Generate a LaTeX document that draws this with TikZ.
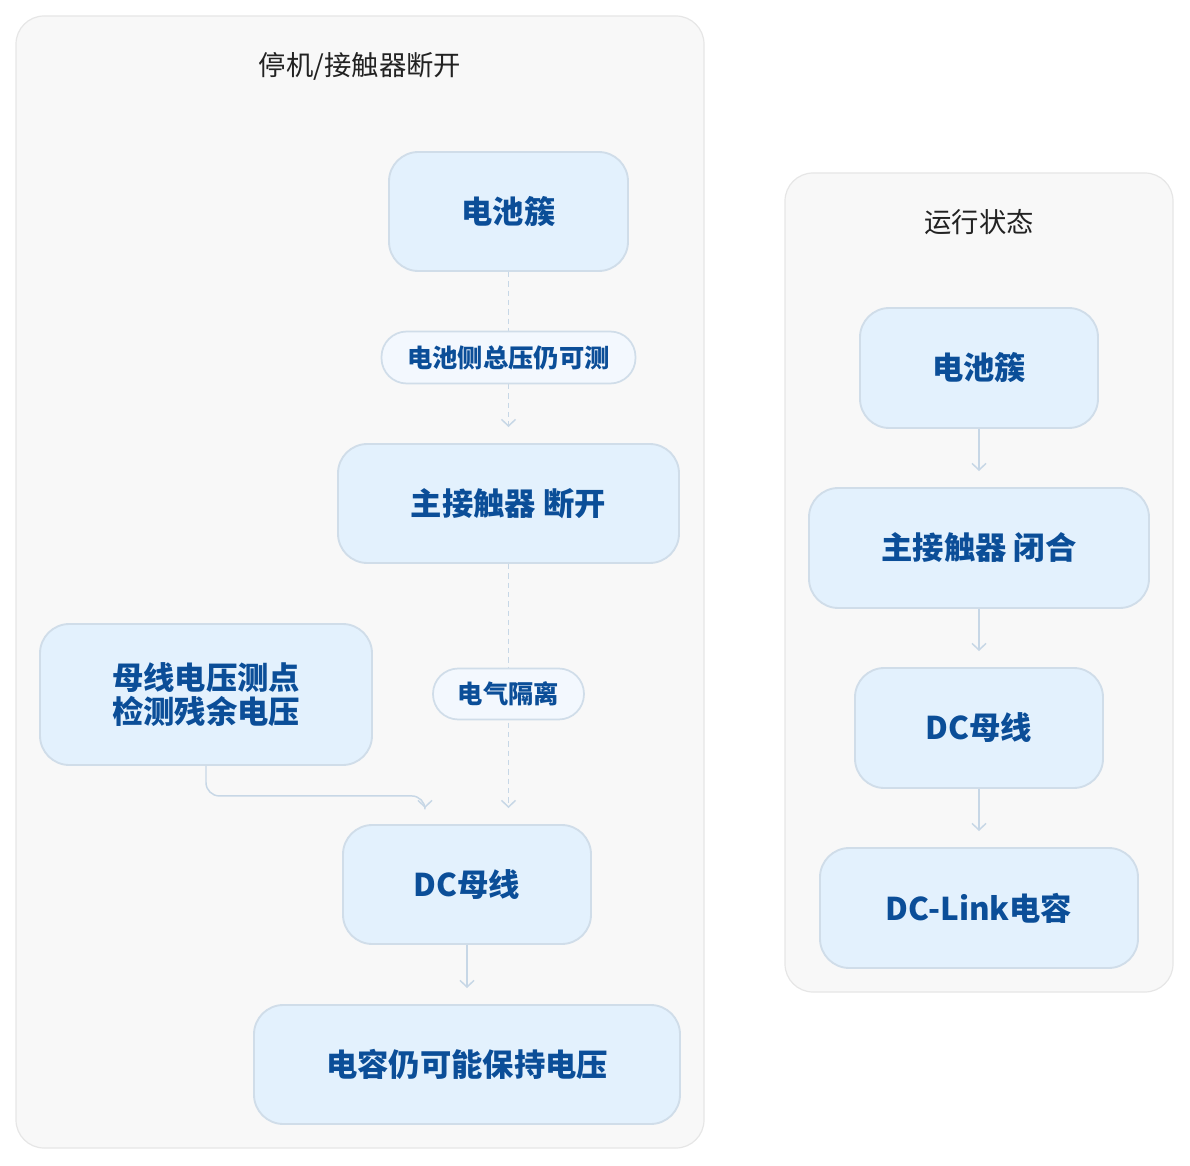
\documentclass[tikz,border=0pt]{standalone}
\usepackage{fontspec}
\setmainfont{Noto Sans CJK SC}
\usetikzlibrary{arrows.meta,calc}
\definecolor{clfill}{HTML}{F8F8F8}
\definecolor{cldraw}{HTML}{E6E6E6}
\definecolor{nfill}{HTML}{E3F1FD}
\definecolor{ndraw}{HTML}{D0DDE9}
\definecolor{ntext}{HTML}{0B4E98}
\definecolor{lfill}{HTML}{F3F8FE}
\definecolor{edgec}{HTML}{C7D7E6}
\definecolor{ttext}{HTML}{222222}
\tikzset{
  sz/.style 2 args={minimum width=#1*0.75pt, minimum height=#2*0.75pt},
  cluster/.style={draw=cldraw, fill=clfill, line width=0.9pt, rounded corners=21pt},
  ctitle/.style={text=ttext, font=\fontsize{20.5}{24}\selectfont, inner sep=0pt},
  nodebox/.style={draw=ndraw, fill=nfill, line width=1.4pt, rounded corners=22pt, inner sep=0pt,
    text=ntext, font=\bfseries\fontsize{23.5}{26}\selectfont, align=center},
  pill/.style={solid, draw=ndraw, fill=lfill, line width=1.3pt, rounded corners=19pt, inner sep=0pt,
    text=ntext, font=\bfseries\fontsize{19}{22}\selectfont},
  edge/.style={draw=edgec, line width=1.1pt, -{Straight Barb[length=5pt,width=10.5pt,line width=1.1pt]}, shorten >=12pt},
  dedge/.style={edge, dash pattern=on 4pt off 3pt},
}
\begin{document}
\begin{tikzpicture}[x=0.75pt,y=-0.75pt]
\useasboundingbox (0,0) rectangle (1190,1166);
% clusters
\draw[cluster] (16,16) rectangle (704,1148);
\draw[cluster] (785,173) rectangle (1173,992);
\node[ctitle] (t1) at (360,66) {停机/接触器断开};
\node[ctitle] (t2) at (979,222) {运行状态};
% left nodes
\node[nodebox, sz={239}{119}] (b1) at (508.5,211.5) {电池簇};
\node[nodebox, sz={341}{119}] (k1) at (508.5,503.5) {主接触器 断开};
\node[nodebox, sz={332}{141}] (m1) at (206,694.5) {母线电压测点\\检测残余电压};
\node[nodebox, sz={248}{119}] (d1) at (467,884.5) {DC母线};
\node[nodebox, sz={426}{119}] (c1) at (467,1064.5) {电容仍可能保持电压};
% right nodes
\node[nodebox, sz={238}{120}] (b2) at (979,368) {电池簇};
\node[nodebox, sz={340}{120}] (k2) at (979,548) {主接触器 闭合};
\node[nodebox, sz={248}{120}] (d2) at (979,728) {DC母线};
\node[nodebox, sz={318}{120}] (c2) at (979,908) {DC-Link电容};
% left edges
\draw[dedge] (b1.south) -- (k1.north)
  node[pill, sz={254}{52}, midway] (l1) {电池侧总压仍可测};
\draw[dedge] (k1.south) -- (k1.south |- d1.north)
  node[pill, sz={151}{51}, midway] (l2) {电气隔离};
\draw[edge, rounded corners=10pt] (m1.south) -- ++(0,30) -| ($(d1.north)+(-42,0)$);
\draw[edge] (d1.south) -- (c1.north);
% right edges
\draw[edge] (b2.south) -- (k2.north);
\draw[edge] (k2.south) -- (d2.north);
\draw[edge] (d2.south) -- (c2.north);
\end{tikzpicture}
\end{document}
